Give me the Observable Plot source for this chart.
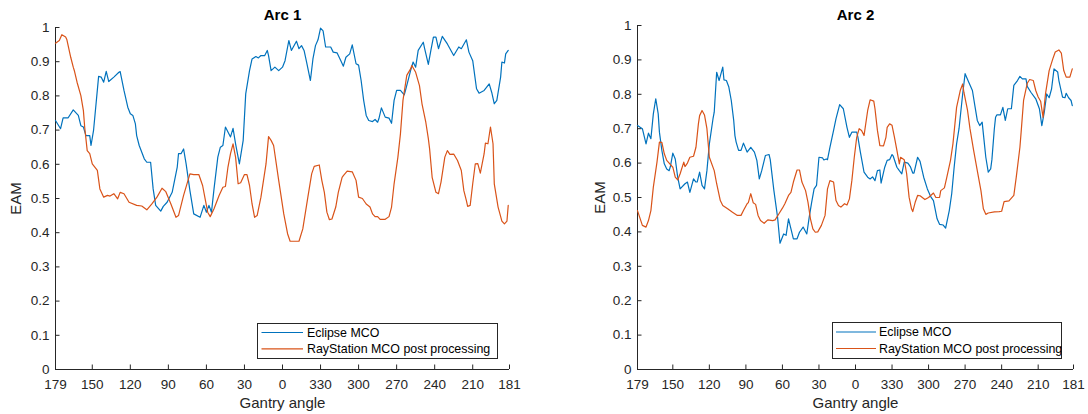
<!DOCTYPE html>
<html>
<head>
<meta charset="utf-8">
<script src="https://cdn.jsdelivr.net/npm/d3@7"></script>
<script src="https://cdn.jsdelivr.net/npm/@observablehq/plot@0.6"></script>
<style>
  html, body { margin: 0; padding: 0; background: #fff; }
  #wrap { position: relative; width: 1088px; height: 414px; overflow: hidden; font-family: "Liberation Sans", Arial, Helvetica, sans-serif; }
  .panel { position: absolute; top: 0; }
  .legend { position: absolute; }
</style>
</head>
<body>
<div id="wrap"></div>
<script>
// ---------- data (gantry angle in degrees, EAM) ----------
const xTickAngles = [179, 150, 120, 90, 60, 30, 0, 330, 300, 270, 240, 210, 181];
const yTicks = [0, 0.1, 0.2, 0.3, 0.4, 0.5, 0.6, 0.7, 0.8, 0.9, 1];
const seriesNames = ["Eclipse MCO", "RayStation MCO post processing"];
const seriesColors = ["#0072BD", "#D95319"];
const titles = ["Arc 1", "Arc 2"];

const arc1EclipseAngle = [
  179,175,173,169,165,161,159,157,155,152,
  151,149,145,143,141,139,137,133,129,128,
  125,122,120,118,116,115,113,109,107,104,
  102,100,96,94,91,87,83,82,80,78,
  76,73,70,65,62,60,58,56,54,51,
  49,47,45,41,39,37,34,31,29,26,
  24,21,19,17,14,12,11,9,6,3,
  0,358,355,353,349,347,345,343,341,338,
  336,334,332,330,328,326,322,320,317,314,
  312,310,307,305,302,300,298,296,294,292,
  289,287,285,284,282,279,276,274,272,270,
  267,264,263,259,257,255,253,249,248,245,
  243,241,239,237,234,230,225,221,219,215,
  213,210,207,205,201,197,195,193,191,188,
  187,185,184,182];
const arc1EclipseEAM = [
  .728,.704,.736,.736,.759,.743,.713,.709,.684,.684,
  .655,.699,.857,.855,.840,.872,.842,.855,.869,.871,
  .816,.767,.748,.743,.718,.684,.655,.616,.606,.606,
  .528,.480,.463,.477,.489,.518,.592,.631,.631,.645,
  .601,.523,.455,.445,.480,.460,.480,.460,.528,.621,
  .650,.655,.709,.680,.705,.660,.601,.670,.806,.874,
  .908,.915,.911,.918,.918,.933,.918,.874,.884,.874,
  .884,.903,.962,.933,.960,.938,.947,.933,.899,.845,
  .908,.947,.964,.998,.990,.943,.943,.928,.926,.903,
  .887,.913,.923,.949,.894,.890,.845,.787,.743,.728,
  .725,.731,.723,.733,.765,.738,.735,.720,.787,.816,
  .816,.803,.816,.874,.899,.884,.933,.957,.940,.892,
  .933,.972,.972,.938,.974,.952,.918,.943,.938,.964,
  .928,.903,.821,.808,.816,.835,.810,.777,.787,.855,
  .899,.896,.923,.933];

const arc1RayAngle = [
  179,176,174,171,170,167,165,164,162,159,
  157,156,154,152,150,146,144,141,138,136,
  133,130,128,125,121,115,111,107,103,99,
  95,92,88,84,82,78,73,70,66,63,
  61,59,57,54,50,47,45,43,41,39,
  37,35,33,30,28,26,24,22,20,17,
  13,11,9,7,3,359,356,354,347,344,
  340,337,335,331,329,327,325,323,321,318,
  316,313,312,309,305,302,300,297,294,291,
  289,287,285,283,279,276,274,272,269,267,
  265,262,259,258,255,252,250,247,245,244,
  242,239,237,235,232,230,228,225,222,219,
  217,215,214,212,210,208,206,204,201,200,
  198,196,194,193,190,187,185,183,182];
const arc1RayEAM = [
  .954,.962,.979,.972,.964,.913,.884,.872,.840,.801,
  .757,.709,.640,.631,.601,.582,.528,.504,.509,.507,
  .514,.499,.518,.514,.489,.480,.478,.467,.484,.504,
  .530,.520,.484,.445,.450,.509,.572,.570,.570,.538,
  .499,.460,.447,.470,.509,.533,.535,.592,.631,.660,
  .621,.543,.546,.570,.570,.538,.484,.445,.450,.504,
  .601,.681,.670,.655,.553,.455,.397,.375,.375,.411,
  .504,.572,.594,.598,.553,.518,.460,.438,.440,.475,
  .518,.562,.567,.580,.578,.553,.504,.500,.484,.475,
  .455,.447,.447,.439,.439,.447,.475,.543,.621,.689,
  .787,.860,.879,.889,.869,.830,.777,.723,.675,.645,
  .562,.518,.514,.548,.621,.640,.629,.630,.611,.582,
  .523,.494,.477,.480,.543,.601,.602,.574,.631,.662,
  .660,.709,.660,.543,.475,.434,.426,.434,.480];

const arc2EclipseAngle = [
  179,175,172,170,168,166,164,162,161,159,
  157,155,153,152,150,148,146,144,140,138,
  136,133,131,130,128,126,124,122,120,117,
  116,114,112,109,108,106,104,102,100,99,
  98,96,94,92,89,86,83,81,79,77,
  74,71,70,67,64,62,59,57,55,53,
  51,48,46,43,40,38,36,34,32,30,
  27,26,24,23,21,18,16,13,10,7,
  5,3,359,358,356,353,350,348,346,344,
  342,340,339,336,334,332,330,329,326,324,
  322,320,317,315,313,312,309,307,304,301,
  298,296,293,291,288,286,283,281,279,277,
  275,272,270,267,264,262,260,258,256,255,
  253,251,249,248,246,245,244,241,239,237,
  235,232,230,227,225,223,220,219,216,212,
  209,207,205,203,201,199,197,194,193,190,
  188,187,185,183,182];
const arc2EclipseEAM = [
  .709,.700,.656,.687,.671,.743,.787,.743,.690,.637,
  .598,.583,.578,.590,.629,.612,.559,.525,.540,.545,
  .515,.554,.545,.545,.574,.535,.525,.578,.656,.729,
  .748,.864,.840,.879,.842,.840,.821,.782,.724,.680,
  .661,.637,.637,.658,.632,.646,.632,.608,.554,.578,
  .622,.625,.610,.520,.443,.367,.394,.390,.438,.409,
  .380,.380,.399,.414,.394,.443,.486,.525,.535,.617,
  .615,.609,.612,.610,.646,.695,.729,.770,.758,.704,
  .675,.690,.690,.675,.632,.574,.559,.554,.560,.549,
  .578,.580,.542,.588,.608,.610,.625,.620,.588,.578,
  .569,.603,.600,.590,.571,.571,.617,.605,.559,.525,
  .501,.491,.438,.422,.420,.411,.462,.511,.588,.656,
  .700,.801,.860,.835,.811,.767,.724,.709,.719,.685,
  .617,.574,.583,.610,.700,.733,.740,.740,.762,.724,
  .758,.758,.826,.840,.852,.845,.845,.823,.806,.787,
  .758,.709,.748,.801,.790,.816,.874,.865,.840,.792,
  .790,.803,.790,.782,.767];

const arc2RayAngle = [
  179,175,172,170,168,166,163,161,159,157,
  155,153,150,148,146,144,141,140,138,136,
  133,131,129,128,126,124,122,120,116,114,
  111,109,105,101,97,94,92,89,88,86,
  84,82,80,78,75,72,68,66,63,60,
  58,55,53,51,48,46,44,41,39,37,
  35,33,31,28,25,23,21,18,16,14,
  12,9,7,5,3,1,359,357,355,353,
  350,348,345,344,342,340,337,335,334,332,
  330,328,326,324,323,320,318,316,314,313,
  311,309,307,303,300,296,294,291,290,287,
  285,282,280,277,274,272,271,268,266,263,
  260,257,255,253,251,246,242,240,238,234,
  230,228,225,224,222,219,217,214,212,210,
  208,206,204,201,198,196,193,191,189,187,
  184,182];
const arc2RayEAM = [
  .462,.419,.414,.433,.462,.530,.603,.661,.660,.627,
  .608,.600,.588,.559,.551,.569,.603,.590,.600,.617,
  .620,.646,.714,.738,.753,.740,.700,.617,.578,.540,
  .491,.477,.467,.457,.448,.448,.462,.482,.485,.511,
  .485,.480,.448,.433,.425,.435,.433,.435,.452,.469,
  .482,.506,.515,.545,.580,.580,.545,.520,.486,.438,
  .409,.399,.400,.419,.448,.525,.549,.545,.491,.477,
  .472,.482,.478,.496,.549,.617,.675,.700,.695,.680,
  .753,.784,.780,.758,.695,.651,.650,.675,.704,.714,
  .710,.675,.637,.598,.617,.610,.569,.501,.467,.459,
  .486,.506,.505,.494,.500,.513,.500,.500,.520,.528,
  .559,.608,.656,.762,.811,.830,.806,.753,.700,.637,
  .578,.520,.467,.451,.455,.458,.459,.460,.488,.490,
  .506,.559,.646,.690,.782,.832,.843,.840,.811,.792,
  .780,.733,.801,.869,.903,.923,.929,.920,.869,.850,
  .850,.874];

// ---------- helpers ----------
const FONT = "'Liberation Sans', Arial, Helvetica, sans-serif";
const AXIS = "#262626";
// gantry rotation: 179 -> 0 -> 181 (counter-clockwise through 0)
const pos = a => (a <= 179 ? 179 - a : 539 - a);
const tickLabel = new Map(xTickAngles.map(a => [pos(a), String(a)]));

function series(angles, eam, name) {
  const n = Math.min(angles.length, eam.length);
  const out = [];
  for (let i = 0; i < n; i++) out.push({p: pos(angles[i]), v: eam[i], name});
  return out;
}

function arcChart(o) {
  const data = [
    ...series(o.eA, o.eV, seriesNames[0]),
    ...series(o.rA, o.rV, seriesNames[1])
  ];
  const xt = xTickAngles.map(pos);
  return Plot.plot({
    width: o.width, height: 414,
    marginLeft: o.ml, marginRight: o.mr, marginTop: o.mt, marginBottom: 45,
    style: {fontFamily: FONT, fontSize: "13.5px", color: AXIS, background: "transparent", overflow: "visible"},
    x: {type: "linear", domain: [pos(179), pos(181)], label: null},
    y: {type: "linear", domain: [0, 1], label: null},
    color: {domain: seriesNames, range: seriesColors},
    marks: [
      Plot.ruleY([0], {stroke: AXIS, strokeWidth: 1}),
      Plot.ruleX([pos(179)], {stroke: AXIS, strokeWidth: 1}),
      Plot.axisX(xt, {anchor: "bottom", tickSize: -4.5, tickFormat: () => "", stroke: AXIS, label: null}),
      Plot.axisX(xt, {anchor: "bottom", tickSize: 0, tickPadding: 10, tickFormat: p => tickLabel.get(p), fill: AXIS, fontSize: 13.5, label: null}),
      Plot.axisY(yTicks, {anchor: "left", tickSize: -4.5, tickFormat: () => "", stroke: AXIS, label: null}),
      Plot.axisY(yTicks, {anchor: "left", tickSize: 0, tickPadding: 6, tickFormat: d => String(d), fill: AXIS, fontSize: 13.5, label: null}),
      Plot.line(data, {x: "p", y: "v", stroke: "name", z: "name", strokeWidth: 1.2}),
      Plot.text([o.title], {frameAnchor: "top", dy: 15 - o.mt, lineAnchor: "middle", fontWeight: "bold", fontSize: 15, fill: "#000"}),
      Plot.text(["Gantry angle"], {frameAnchor: "bottom", dy: 34, lineAnchor: "middle", fontSize: 15, fill: AXIS}),
      Plot.text(["EAM"], {frameAnchor: "left", dx: o.ylabDx, rotate: -90, lineAnchor: "middle", textAnchor: "middle", fontSize: 15, fill: AXIS})
    ]
  });
}

function legendSvg(w, h, lineStart, lineEnd, textX, y1, y2) {
  const ns = "http://www.w3.org/2000/svg";
  const svg = document.createElementNS(ns, "svg");
  svg.setAttribute("width", w); svg.setAttribute("height", h);
  svg.setAttribute("font-family", FONT);
  const rect = document.createElementNS(ns, "rect");
  rect.setAttribute("x", 0.5); rect.setAttribute("y", 0.5);
  rect.setAttribute("width", w - 1); rect.setAttribute("height", h - 1);
  rect.setAttribute("fill", "#fff"); rect.setAttribute("stroke", AXIS); rect.setAttribute("stroke-width", 1);
  svg.appendChild(rect);
  [y1, y2].forEach((y, i) => {
    const l = document.createElementNS(ns, "line");
    l.setAttribute("x1", lineStart); l.setAttribute("x2", lineEnd);
    l.setAttribute("y1", y); l.setAttribute("y2", y);
    l.setAttribute("stroke", seriesColors[i]); l.setAttribute("stroke-width", 1.2);
    svg.appendChild(l);
    const t = document.createElementNS(ns, "text");
    t.setAttribute("x", textX); t.setAttribute("y", y);
    t.setAttribute("dy", "0.35em");
    t.setAttribute("font-size", "12.4px"); t.setAttribute("fill", "#000");
    t.textContent = seriesNames[i];
    svg.appendChild(t);
  });
  return svg;
}

const wrap = document.getElementById("wrap");

const p1 = arcChart({title: titles[0], eA: arc1EclipseAngle, eV: arc1EclipseEAM, rA: arc1RayAngle, rV: arc1RayEAM,
  width: 544, ml: 55, mr: 35, mt: 27, ylabDx: -39});
p1.classList.add("panel"); p1.style.left = "0px";
wrap.appendChild(p1);

const p2 = arcChart({title: titles[1], eA: arc2EclipseAngle, eV: arc2EclipseEAM, rA: arc2RayAngle, rV: arc2RayEAM,
  width: 544, ml: 93, mr: 15, mt: 25, ylabDx: -37});
p2.classList.add("panel"); p2.style.left = "544px";
wrap.appendChild(p2);

const l1 = legendSvg(241, 36, 4.5, 46, 50, 9.5, 25.8);
l1.classList.add("legend"); l1.style.left = "257px"; l1.style.top = "323px";
wrap.appendChild(l1);

const l2 = legendSvg(230, 37, 4, 44, 47, 10, 26.5);
l2.classList.add("legend"); l2.style.left = "832px"; l2.style.top = "322px";
wrap.appendChild(l2);
</script>
</body>
</html>
